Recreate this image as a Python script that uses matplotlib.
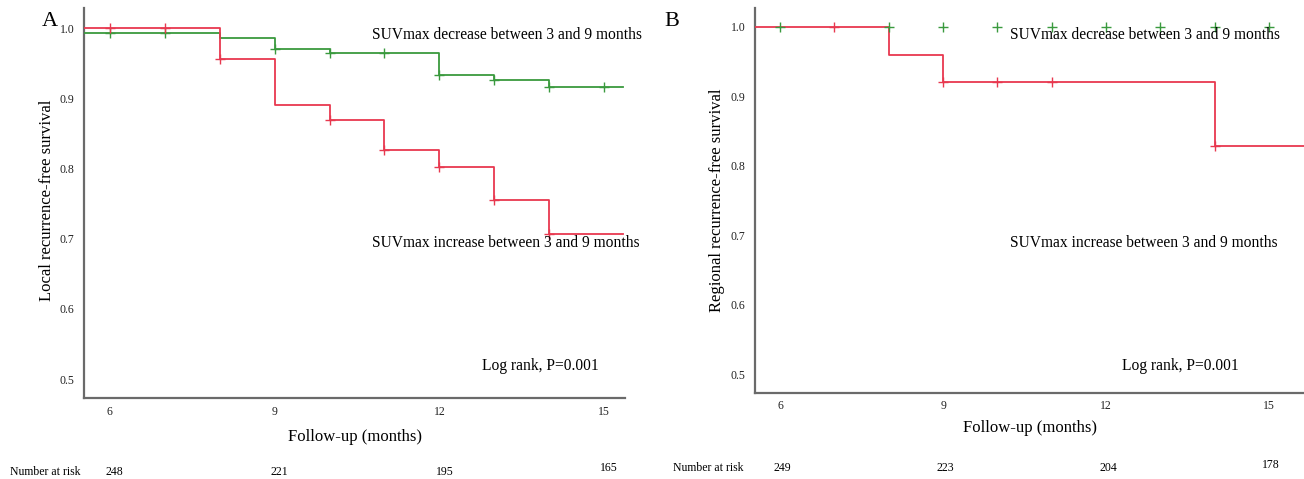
import numpy as np
import matplotlib
matplotlib.use("Agg")
import matplotlib.pyplot as plt

plt.rcParams['font.family'] = ['Liberation Serif', 'DejaVu Serif']

# ---------------- data ----------------
# Panel A (local recurrence-free survival)
A_inc_times = [5.5, 8, 9, 10, 11, 12, 13, 14]
A_inc_surv = [1.0, 0.957, 0.891, 0.870, 0.826, 0.802, 0.755, 0.707]
A_inc_cens = [6, 7, 8, 10, 11, 12, 13, 14]
A_dec_times = [5.5, 8, 9, 10, 12, 13, 14]
A_dec_surv = [0.993, 0.986, 0.971, 0.965, 0.933, 0.926, 0.917]
A_dec_cens = [6, 7, 9, 10, 11, 12, 13, 14, 15]
A_end = 15.35
A_risk = [248, 221, 195, 165]

# Panel B (regional recurrence-free survival)
B_inc_times = [5.5, 8, 9, 14]
B_inc_surv = [1.0, 0.960, 0.920, 0.828]
B_inc_cens = [7, 9, 10, 11, 14]
B_dec_cens = [6, 8, 9, 10, 11, 12, 13, 14, 15]
B_dec_level = 1.0
B_end = 15.7
B_risk = [249, 223, 204, 178]

xticks = [6, 9, 12, 15]
yticks = [0.5, 0.6, 0.7, 0.8, 0.9, 1.0]

RED = '#e8384f'
GREEN = '#3a9a3e'
AXC = '#6a6a6a'

W, H = 1304, 479


def step_val(times, surv, t):
    idx = np.searchsorted(times, t, side='right') - 1
    return np.asarray(surv)[idx]


def km(ax, times, surv, end, cens, color, line=True):
    if line:
        xs = list(times) + [end]
        ys = list(surv) + [surv[-1]]
        ax.step(xs, ys, where='post', color=color, lw=1.3, zorder=3)
    cy = [step_val(times, surv, c) for c in cens]
    ax.plot(cens, cy, ls='none', marker='+', ms=6.5, mew=1.0, color=color, zorder=4)


def style(ax, xlim, ylim, tickpad_x):
    ax.set_xlim(*xlim)
    ax.set_ylim(*ylim)
    for s in ['top', 'right']:
        ax.spines[s].set_visible(False)
    for s in ['left', 'bottom']:
        ax.spines[s].set_color(AXC)
        ax.spines[s].set_linewidth(1.6)
    ax.set_xticks(xticks)
    ax.set_xticklabels([str(v) for v in xticks])
    ax.set_yticks(yticks)
    ax.set_yticklabels([f"{v:.1f}" for v in yticks])
    ax.tick_params(axis='both', length=0, labelsize=8.5, labelcolor='#222222')
    ax.tick_params(axis='x', pad=tickpad_x)
    ax.tick_params(axis='y', pad=7)


fig = plt.figure(figsize=(13.04, 4.79), dpi=100)

axA = fig.add_axes([84 / W, 1 - 398 / H, (625 - 84) / W, (398 - 8) / H])
axB = fig.add_axes([755 / W, 1 - 393 / H, (1304 - 755) / W, (393 - 8) / H])

# Panel A
km(axA, A_dec_times, A_dec_surv, A_end, A_dec_cens, GREEN)
km(axA, A_inc_times, A_inc_surv, A_end, A_inc_cens, RED)
style(axA, (5.53, 15.38), (0.473, 1.029), 6)

# Panel B
axB.plot(B_dec_cens, [B_dec_level] * len(B_dec_cens), ls='none', marker='+',
         ms=6.5, mew=1.0, color=GREEN, zorder=4)
km(axB, B_inc_times, B_inc_surv, B_end, B_inc_cens, RED)
style(axB, (5.54, 15.64), (0.473, 1.027), 5)

fs = 11.2
# axis labels
fig.text(47 / W, 1 - 200 / H, 'Local recurrence-free survival', fontsize=12, rotation=90,
         va='center', ha='center')
fig.text(717 / W, 1 - 200 / H, 'Regional recurrence-free survival', fontsize=12, rotation=90,
         va='center', ha='center')
fig.text(355 / W, 1 - 437 / H, 'Follow-up (months)', fontsize=12, va='center', ha='center')
fig.text(1030 / W, 1 - 428 / H, 'Follow-up (months)', fontsize=12, va='center', ha='center')

# annotations A
fig.text(372 / W, 1 - 35 / H, 'SUVmax decrease between 3 and 9 months', fontsize=fs, va='center', ha='left')
fig.text(372 / W, 1 - 243 / H, 'SUVmax increase between 3 and 9 months', fontsize=fs, va='center', ha='left')
fig.text(482 / W, 1 - 366 / H, 'Log rank, P=0.001', fontsize=fs, va='center', ha='left')
fig.text(42 / W, 1 - 22 / H, 'A', fontsize=16, va='center', ha='left')
# annotations B
fig.text(1010 / W, 1 - 35 / H, 'SUVmax decrease between 3 and 9 months', fontsize=fs, va='center', ha='left')
fig.text(1010 / W, 1 - 243 / H, 'SUVmax increase between 3 and 9 months', fontsize=fs, va='center', ha='left')
fig.text(1122 / W, 1 - 366 / H, 'Log rank, P=0.001', fontsize=fs, va='center', ha='left')
fig.text(664 / W, 1 - 22 / H, 'B', fontsize=16, va='center', ha='left')

# number at risk rows
fig.text(10 / W, 1 - 472 / H, 'Number at risk', fontsize=8.5, va='center', ha='left')
for xv, n, yp in zip(xticks, A_risk, [472, 472, 472, 468]):
    xd = axA.transData.transform((xv, 0))[0]
    xf = fig.transFigure.inverted().transform((xd, 0))[0]
    fig.text(xf + 5 / W, 1 - yp / H, str(n), fontsize=8.5, va='center', ha='center')

fig.text(673 / W, 1 - 468 / H, 'Number at risk', fontsize=8.5, va='center', ha='left')
for xv, n, yp in zip(xticks, B_risk, [468, 468, 468, 465]):
    xd = axB.transData.transform((xv, 0))[0]
    xf = fig.transFigure.inverted().transform((xd, 0))[0]
    fig.text(xf + 2 / W, 1 - yp / H, str(n), fontsize=8.5, va='center', ha='center')

fig.savefig('out.png', dpi=100)
